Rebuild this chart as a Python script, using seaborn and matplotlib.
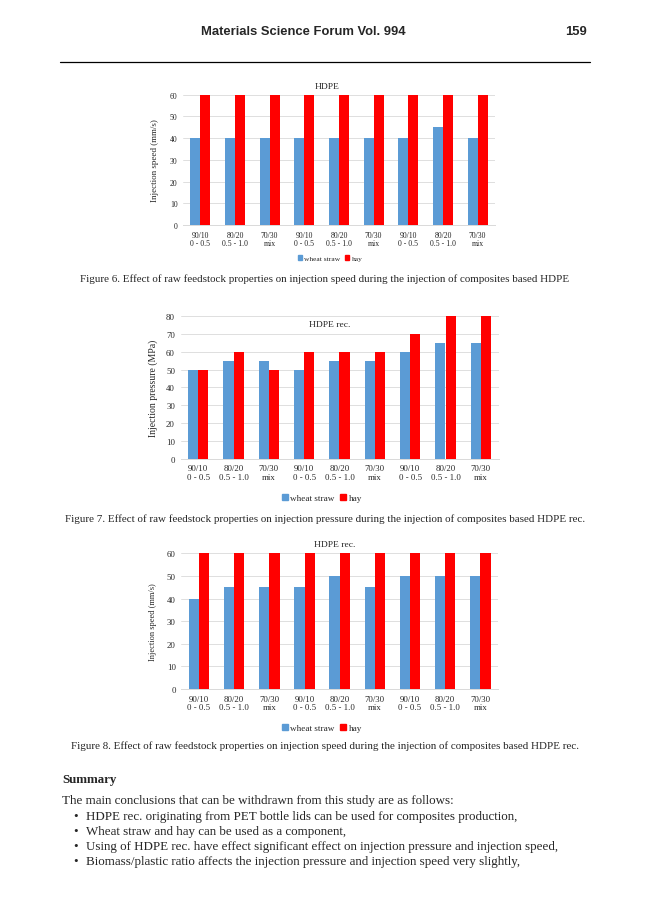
#!/usr/bin/env python3

import pandas as pd
from matplotlib import pyplot as plt
import seaborn as sns


# category labels (ratio / particle size), repeated for the three groups
group_labels = ["90/10\n0 - 0.5", "80/20\n0.5 - 1.0", "70/30\nmix"] * 3

hdpe_speed_wheat = [40, 40, 40, 40, 40, 40, 40, 45, 40]
hdpe_speed_hay = [60, 60, 60, 60, 60, 60, 60, 60, 60]

rec_pressure_wheat = [50, 55, 55, 50, 55, 55, 60, 65, 65]
rec_pressure_hay = [50, 60, 50, 60, 60, 60, 70, 80, 80]

rec_speed_wheat = [40, 45, 45, 45, 50, 45, 50, 50, 50]
rec_speed_hay = [60, 60, 60, 60, 60, 60, 60, 60, 60]

series_names = ["wheat straw", "hay"]
palette = {"wheat straw": "#5B9BD5", "hay": "#FF0000"}

W, H = 650, 920
serif = ["Liberation Serif", "DejaVu Serif"]
sans = ["Liberation Sans", "DejaVu Sans"]


def px_rect(left, top, right, bottom):
    return [left / W, 1 - bottom / H, (right - left) / W, (bottom - top) / H]


def make_df(wheat, hay):
    rows = []
    for i, (w, h) in enumerate(zip(wheat, hay)):
        rows.append({"cat": str(i), "series": series_names[0], "value": w})
        rows.append({"cat": str(i), "series": series_names[1], "value": h})
    return pd.DataFrame(rows)


def draw_chart(fig, rect, wheat, hay, ymax, ylabel, ylabel_x, title, title_xy,
               legend_xy, ylabel_size=6.5, tick_size=6.0, legend_size=6.5):
    ax = fig.add_axes(rect)
    df = make_df(wheat, hay)
    sns.barplot(data=df, x="cat", y="value", hue="series", palette=palette,
                order=[str(i) for i in range(9)], hue_order=series_names,
                width=0.58, saturation=1, linewidth=0, legend=False, ax=ax)
    ax.set_ylim(0, ymax)
    ax.set_yticks(range(0, ymax + 1, 10))
    ax.set_xlim(-0.5, 8.5)
    ax.set_xticks(range(9))
    ax.set_xticklabels(group_labels, family=serif, fontsize=tick_size,
                       linespacing=1.15)
    for lab in ax.get_yticklabels():
        lab.set_family(serif)
        lab.set_fontsize(tick_size)
    ax.tick_params(axis="both", length=0, pad=4)
    ax.set_xlabel("")
    ax.set_ylabel("")
    ax.grid(axis="y", color="#D9D9D9", linewidth=0.6)
    ax.grid(axis="x", visible=False)
    ax.set_axisbelow(True)
    for side in ["top", "right", "left"]:
        ax.spines[side].set_visible(False)
    ax.spines["bottom"].set_color("#D9D9D9")
    ax.spines["bottom"].set_linewidth(0.7)

    ymid = rect[1] + rect[3] / 2
    fig.text(ylabel_x / W, ymid, ylabel, rotation=90, ha="center", va="center",
             family=serif, fontsize=ylabel_size)
    fig.text(title_xy[0] / W, 1 - title_xy[1] / H, title, ha="center",
             va="center", family=serif, fontsize=6.8)

    handles = [plt.Rectangle((0, 0), 1, 1, color=palette[s]) for s in series_names]
    fig.legend(handles, series_names, loc="center", ncol=2, frameon=False,
               bbox_to_anchor=(legend_xy[0] / W, 1 - legend_xy[1] / H),
               prop={"family": serif, "size": legend_size},
               handlelength=0.6, handleheight=0.6, handletextpad=0.3,
               columnspacing=0.6)
    return ax


sns.set_theme(style="whitegrid")
plt.rcParams["font.family"] = serif

fig = plt.figure(figsize=(W / 100, H / 100), dpi=100)
fig.patch.set_facecolor("white")

# page header
fig.text(303.7 / W, 1 - 32 / H, "Materials Science Forum Vol. 994", ha="center",
         va="center", family=sans, fontweight="bold", fontsize=9.4)
fig.text(587 / W, 1 - 32 / H, "159", ha="right", va="center", family=sans,
         fontweight="bold", fontsize=9.4)
fig.add_artist(plt.Line2D([60 / W, 590 / W], [1 - 63 / H, 1 - 63 / H],
                          color="black", linewidth=0.9))

# Figure 6
draw_chart(fig, px_rect(183, 95.7, 495, 226), hdpe_speed_wheat, hdpe_speed_hay,
           60, "Injection speed (mm/s)", 155, "HDPE", (327, 87), (330, 259),
           ylabel_size=6.5, tick_size=5.6, legend_size=5.4)
fig.text(325 / W, 1 - 279 / H,
         "Figure 6. Effect of raw feedstock properties on injection speed during "
         "the injection of composites based HDPE",
         ha="center", va="center", family=serif, fontsize=7.9)

# Figure 7
draw_chart(fig, px_rect(180.5, 317, 498.5, 459.7), rec_pressure_wheat,
           rec_pressure_hay, 80, "Injection pressure (MPa)", 153, "HDPE rec.",
           (330, 325), (322, 499), ylabel_size=7, tick_size=6.3,
           legend_size=6.6)
fig.text(325 / W, 1 - 519 / H,
         "Figure 7. Effect of raw feedstock properties on injection pressure "
         "during the injection of composites based HDPE rec.",
         ha="center", va="center", family=serif, fontsize=7.9)

# Figure 8
draw_chart(fig, px_rect(181.4, 554.3, 498, 690), rec_speed_wheat, rec_speed_hay,
           60, "Injection speed (mm/s)", 153, "HDPE rec.", (335, 545),
           (322, 729), ylabel_size=6.0, tick_size=6.3, legend_size=6.6)
fig.text(325 / W, 1 - 746 / H,
         "Figure 8. Effect of raw feedstock properties on injection speed during "
         "the injection of composites based HDPE rec.",
         ha="center", va="center", family=serif, fontsize=7.9)

# summary text
fig.text(62 / W, 1 - 780 / H, "Summary", ha="left", va="center", family=serif,
         fontweight="bold", fontsize=9.4)
fig.text(62 / W, 1 - 801 / H,
         "The main conclusions that can be withdrawn from this study are as follows:",
         ha="left", va="center", family=serif, fontsize=9.4)
bullets = [
    "HDPE rec. originating from PET bottle lids can be used for composites production,",
    "Wheat straw and hay can be used as a component,",
    "Using of HDPE rec. have effect significant effect on injection pressure and injection speed,",
    "Biomass/plastic ratio affects the injection pressure and injection speed very slightly,",
]
for i, line in enumerate(bullets):
    y = 1 - (816.7 + 15 * i) / H
    fig.text(75.7 / W, y, "\u2022", ha="center", va="center", family=serif,
             fontsize=9.4)
    fig.text(85.7 / W, y, line, ha="left", va="center", family=serif,
             fontsize=9.4)

fig.savefig("out.png", dpi=100)
